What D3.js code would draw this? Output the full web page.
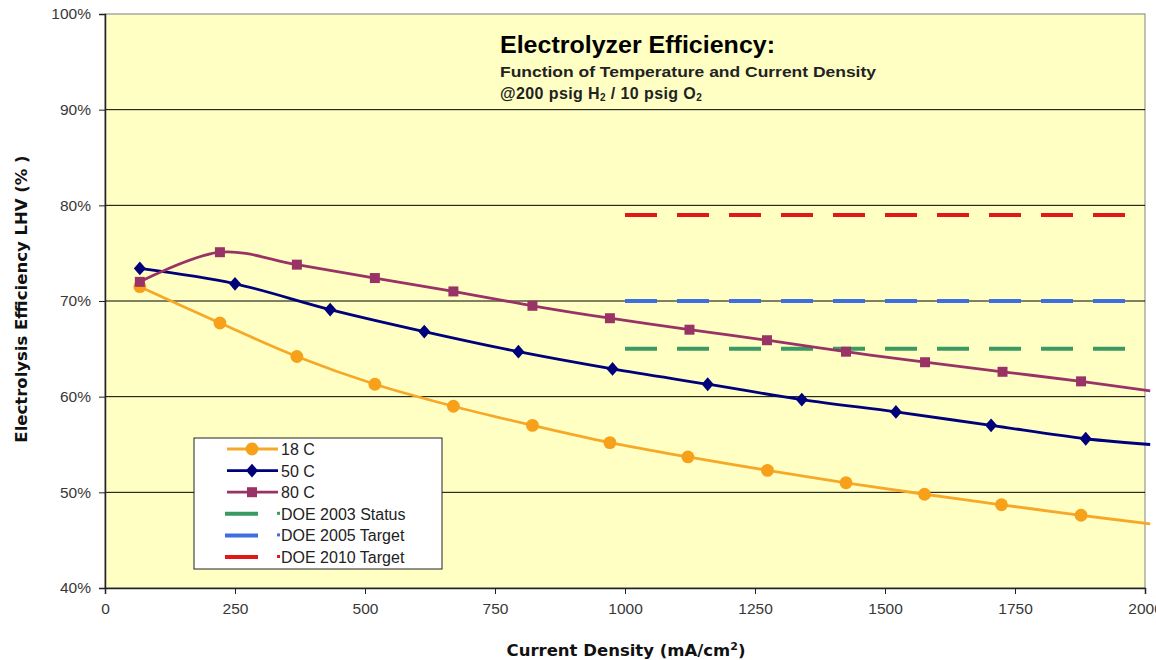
<!DOCTYPE html>
<html>
<head>
<meta charset="utf-8">
<script src="https://cdn.jsdelivr.net/npm/d3@7"></script>
<style>
  body { margin: 0; background: #fff; }
  svg { display: block; font-family: "Liberation Sans", Arial, sans-serif; }
</style>
</head>
<body>
<svg id="chart"></svg>
<script>
// current density (mA/cm2) and efficiency (%)
const x18 = [67, 221, 369, 519, 670, 822, 971, 1121, 1274, 1425, 1576, 1724, 1877, 2010];
const y18 = [71.5, 67.7, 64.2, 61.3, 59.0, 57.0, 55.2, 53.7, 52.3, 51.0, 49.8, 48.7, 47.6, 46.7];
const x50 = [67, 250, 433, 614, 795, 976, 1159, 1340, 1521, 1704, 1886, 2010];
const y50 = [73.4, 71.8, 69.1, 66.8, 64.7, 62.9, 61.3, 59.7, 58.4, 57.0, 55.6, 55.0];
const x80 = [67, 221, 369, 519, 670, 822, 971, 1124, 1273, 1425, 1577, 1726, 1877, 2010];
const y80 = [72.0, 75.1, 73.8, 72.4, 71.0, 69.5, 68.2, 67.0, 65.9, 64.7, 63.6, 62.6, 61.6, 60.6];

const doeNames = ["DOE 2003 Status", "DOE 2005 Target", "DOE 2010 Target"];
const doeValues = [65, 70, 79];
const doeRange = [1000, 2000];

const xTicks = [0, 250, 500, 750, 1000, 1250, 1500, 1750, 2000];
const yTicks = [40, 50, 60, 70, 80, 90, 100];

const W = 1156, H = 660;
const plotL = 105, plotR = 1145, plotT = 14, plotB = 588;

const svg = d3.select("#chart").attr("width", W).attr("height", H);

const x = d3.scaleLinear().domain([0, 2000]).range([plotL, plotR]);
const y = d3.scaleLinear().domain([40, 100]).range([plotB, plotT]);

// plot background
svg.append("rect")
  .attr("x", plotL).attr("y", plotT)
  .attr("width", plotR - plotL).attr("height", plotB - plotT)
  .attr("fill", "#ffffc4")
  .attr("stroke", "#808080");

// gridlines
svg.append("g")
  .selectAll("line")
  .data(yTicks.slice(1, -1))
  .enter()
  .append("line")
  .attr("x1", plotL).attr("x2", plotR)
  .attr("y1", d => y(d)).attr("y2", d => y(d))
  .attr("stroke", "#000").attr("stroke-width", 1);

// axes
const yAxis = d3.axisLeft(y).tickValues(yTicks).tickSize(6).tickPadding(8)
  .tickFormat(d => d + "%");
const gy = svg.append("g").attr("transform", `translate(${plotL},0)`).call(yAxis);
const xAxis = d3.axisBottom(x).tickValues(xTicks).tickSize(6).tickPadding(9)
  .tickFormat(d3.format("d"));
const gx = svg.append("g").attr("transform", `translate(0,${plotB})`).call(xAxis);

[gx, gy].forEach(g => {
  g.select(".domain").attr("stroke", "#222").attr("stroke-width", 1.5);
  g.selectAll(".tick line").attr("stroke", "#222");
  g.selectAll("text").attr("font-size", 15.5).attr("fill", "#383838")
    .attr("font-family", "'Liberation Sans', Arial, sans-serif");
});

// DOE target lines
const doeColors = ["#3a9a62", "#3d6fe0", "#e01818"];
svg.append("g")
  .selectAll("line")
  .data(doeValues)
  .enter()
  .append("line")
  .attr("x1", x(doeRange[0])).attr("x2", x(doeRange[1]))
  .attr("y1", d => y(d)).attr("y2", d => y(d))
  .attr("stroke", (d, i) => doeColors[i])
  .attr("stroke-width", 4)
  .attr("stroke-dasharray", "32,20");

// temperature series
const series = [
  { name: "18 C", xs: x18, ys: y18, color: "#f6a928", mark: "#f7a01a", symbol: d3.symbolCircle, size: 130, rot: "" },
  { name: "50 C", xs: x50, ys: y50, color: "#00007a", mark: "#00007a", symbol: d3.symbolSquare, size: 72, rot: " scale(1,1.15) rotate(45)" },
  { name: "80 C", xs: x80, ys: y80, color: "#993366", mark: "#993366", symbol: d3.symbolSquare, size: 100, rot: "" }
];

const line = d3.line()
  .x(d => x(d[0]))
  .y(d => y(d[1]))
  .curve(d3.curveCatmullRom.alpha(0.5));

series.forEach(s => {
  const pts = s.xs.map((v, i) => [v, s.ys[i]]);
  svg.append("path")
    .datum(pts)
    .attr("d", line)
    .attr("fill", "none")
    .attr("stroke", s.color)
    .attr("stroke-width", 2.8);
  // last point is where the line leaves the plot, no marker there
  svg.append("g")
    .selectAll("path")
    .data(pts.slice(0, -1))
    .enter()
    .append("path")
    .attr("d", d3.symbol().type(s.symbol).size(s.size))
    .attr("transform", d => `translate(${x(d[0])},${y(d[1])})` + s.rot)
    .attr("fill", s.mark);
});

// titles
const title = svg.append("g").attr("font-weight", "bold").attr("fill", "#000");
title.append("text").attr("x", 500).attr("y", 53)
  .attr("font-size", 24).attr("textLength", 275).attr("lengthAdjust", "spacingAndGlyphs")
  .text("Electrolyzer Efficiency:");
title.append("text").attr("x", 500).attr("y", 77)
  .attr("font-size", 15).attr("fill", "#222")
  .attr("textLength", 376).attr("lengthAdjust", "spacingAndGlyphs")
  .text("Function of Temperature and Current Density");
const sub = title.append("text").attr("x", 500).attr("y", 99)
  .attr("font-size", 16).attr("fill", "#222").attr("letter-spacing", 0.4);
sub.append("tspan").text("@200 psig H");
sub.append("tspan").attr("font-size", 10).attr("dy", 2).text("2");
sub.append("tspan").attr("dy", -2).text(" / 10 psig O");
sub.append("tspan").attr("font-size", 10).attr("dy", 2).text("2");

// axis titles
const xt = svg.append("text")
  .attr("x", 626).attr("y", 656)
  .attr("text-anchor", "middle")
  .attr("font-weight", "bold").attr("font-size", 16.5)
  .attr("font-family", "'DejaVu Sans', sans-serif")
  .attr("fill", "#111");
xt.append("tspan").text("Current Density (mA/cm");
xt.append("tspan").attr("font-size", 11).attr("dy", -6).text("2");
xt.append("tspan").attr("dy", 6).text(")");

svg.append("text")
  .attr("transform", "translate(27,299) rotate(-90)")
  .attr("text-anchor", "middle")
  .attr("font-weight", "bold").attr("font-size", 16.5)
  .attr("font-family", "'DejaVu Sans', sans-serif")
  .attr("fill", "#111")
  .text("Electrolysis Efficiency LHV (% )");

// legend
const legend = svg.append("g").attr("id", "legend");
legend.append("rect")
  .attr("x", 194).attr("y", 438)
  .attr("width", 248).attr("height", 131)
  .attr("fill", "#fff").attr("stroke", "#222");

const rowY = i => 449 + i * 21.6;

series.forEach((s, i) => {
  legend.append("line")
    .attr("x1", 227).attr("x2", 278)
    .attr("y1", rowY(i)).attr("y2", rowY(i))
    .attr("stroke", s.color).attr("stroke-width", 2.8);
  legend.append("path")
    .attr("d", d3.symbol().type(s.symbol).size(s.size))
    .attr("transform", `translate(252,${rowY(i)})` + s.rot)
    .attr("fill", s.mark);
  legend.append("text")
    .attr("x", 281).attr("y", rowY(i) + 6)
    .attr("font-size", 16).attr("fill", "#222")
    .text(s.name);
});

doeNames.forEach((n, k) => {
  const i = k + 3;
  legend.append("line")
    .attr("x1", 225).attr("x2", 258)
    .attr("y1", rowY(i)).attr("y2", rowY(i))
    .attr("stroke", doeColors[k]).attr("stroke-width", 4);
  legend.append("rect")
    .attr("x", 277).attr("y", rowY(i) - 2)
    .attr("width", 3).attr("height", 3)
    .attr("fill", doeColors[k]);
  legend.append("text")
    .attr("x", 281).attr("y", rowY(i) + 6)
    .attr("font-size", 16).attr("fill", "#222")
    .text(n);
});
</script>
</body>
</html>
